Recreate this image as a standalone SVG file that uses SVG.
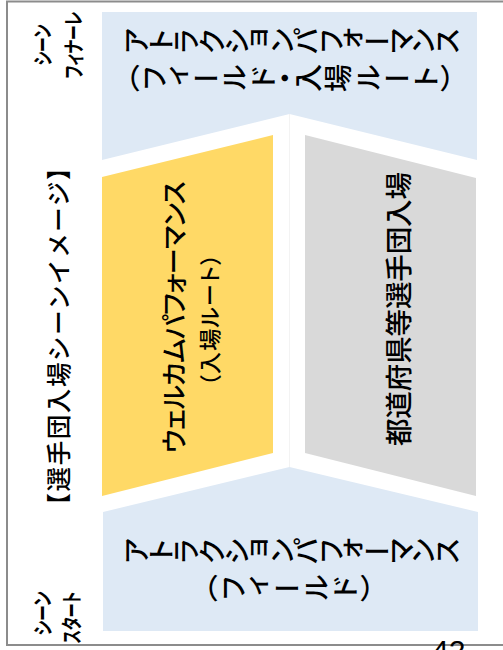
<svg xmlns="http://www.w3.org/2000/svg" width="503" height="650" viewBox="0 0 503 650">
  <style>
    .jp { font-family: "Noto Sans CJK JP", "Noto Sans", sans-serif; fill: #000; font-weight: 500; }
    .hz { text-anchor: middle; dominant-baseline: central; font-feature-settings: "palt" 1; }
    .vt { writing-mode: vertical-rl; text-anchor: middle; font-feature-settings: "vpal" 1; }
    .scene { font-size: 21px; font-weight: bold; }
    .blue { fill: #DEE9F5; }
    .yellow { fill: #FFD966; }
    .gray { fill: #D9D9D9; }
  </style>
  <rect x="0" y="0" width="503" height="650" fill="#FFFFFF"/>
  <rect x="7" y="1.5" width="600" height="643.5" fill="none" stroke="#8C8C8C" stroke-width="2"/>

  <g id="connectors">
    <line x1="289.5" y1="114" x2="289.5" y2="467" stroke="#F3F3F3" stroke-width="1"/>
  </g>

  <g id="title">
    <text class="jp hz" font-size="24.5" style="font-feature-settings: normal" transform="rotate(-90 57 336.5)" x="57" y="336.5" textLength="362" lengthAdjust="spacing">【選手団入場シーンイメージ】</text>
  </g>

  <g id="scene-finale">
    <text class="jp hz scene" transform="rotate(-90 40.5 45)" x="40.5" y="45" textLength="41" lengthAdjust="spacingAndGlyphs">シーン</text>
    <text class="jp hz scene" transform="rotate(-90 71.5 45)" x="71.5" y="45" textLength="67" lengthAdjust="spacingAndGlyphs">フィナーレ</text>
  </g>

  <g id="scene-start">
    <text class="jp hz scene" transform="rotate(-90 41 613.5)" x="41" y="613.5" textLength="44" lengthAdjust="spacingAndGlyphs">シーン</text>
    <text class="jp hz scene" transform="rotate(-90 70 617.5)" x="70" y="617.5" textLength="52" lengthAdjust="spacingAndGlyphs">スタート</text>
  </g>

  <g id="finale-attraction">
    <polygon class="blue" points="102,12 477,12 477,160 289.5,114 102,160"/>
    <text class="jp vt" font-size="28" transform="rotate(-90 291.5 41)" x="291.5" y="41" textLength="338" lengthAdjust="spacing">アトラクションパフォーマンス</text>
    <text class="jp vt" font-size="28" transform="rotate(-90 290 78)" x="290" y="78" textLength="330" lengthAdjust="spacing">（フィールド・入場ルート）</text>
  </g>

  <g id="welcome-performance">
    <polygon class="yellow" points="102,177 273,135 273,453 102,496"/>
    <text class="jp hz" font-size="26" transform="rotate(-90 172 317)" x="172" y="317" textLength="272" lengthAdjust="spacing">ウェルカムパフォーマンス</text>
    <text class="jp hz" font-size="22" transform="rotate(-90 208 320)" x="208" y="320" textLength="132" lengthAdjust="spacing">（入場ルート）</text>
  </g>

  <g id="prefecture-teams">
    <polygon class="gray" points="305,135 476,178 476,496 305,453"/>
    <text class="jp hz" font-size="27.5" transform="rotate(-90 397 309)" x="397" y="309" textLength="274" lengthAdjust="spacing">都道府県等選手団入場</text>
  </g>

  <g id="start-attraction">
    <polygon class="blue" points="103,512 289.5,467 478,512 478,631 103,631"/>
    <text class="jp vt" font-size="28" transform="rotate(-90 291.5 551)" x="291.5" y="551" textLength="338" lengthAdjust="spacing">アトラクションパフォーマンス</text>
    <text class="jp vt" font-size="28" transform="rotate(-90 289.5 588)" x="289.5" y="588" textLength="172" lengthAdjust="spacing">（フィールド）</text>
  </g>

  <g id="page-number">
    <text x="432" y="661" font-family="Liberation Sans, Arial, sans-serif" font-size="30" fill="#000">42</text>
  </g>
</svg>
